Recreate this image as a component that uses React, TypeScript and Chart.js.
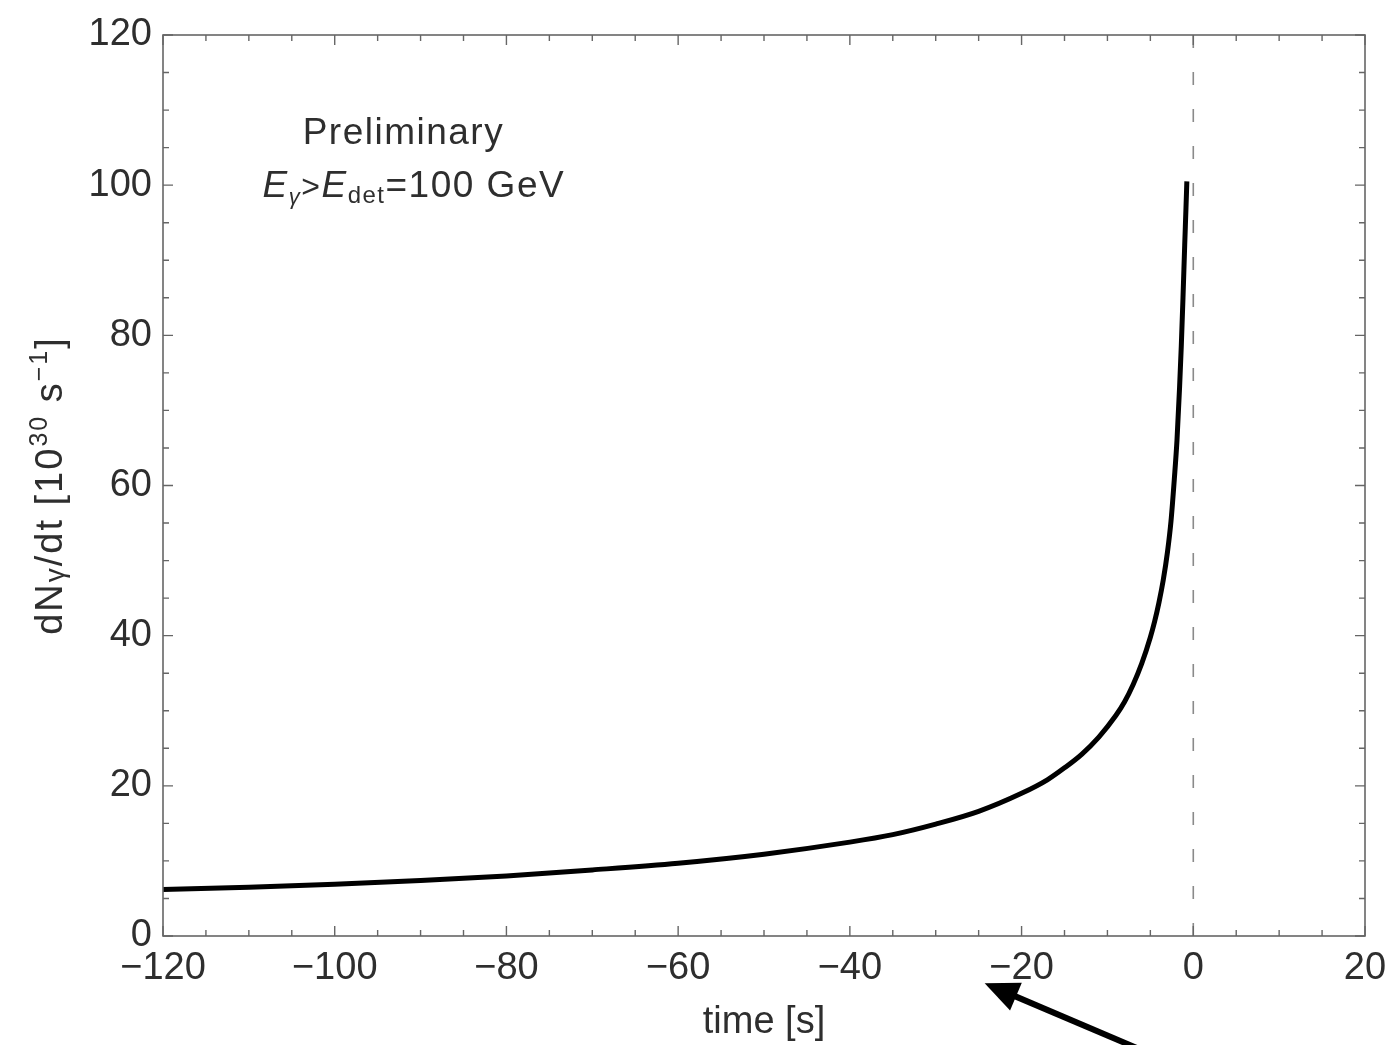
import React, { useEffect, useRef } from "react";
import { Chart, registerables } from "chart.js";

Chart.register(...registerables);

// time [s]
const timeS = [-120, -110, -100, -90, -80, -70, -60, -50, -40, -35, -30, -25, -20, -17, -15, -13, -11, -9, -8, -7, -6, -5, -4.5, -4, -3.5, -3, -2.6, -2.2, -1.9, -1.6, -1.4, -1.2, -1.0, -0.85, -0.75];
// dN/dt [10^30 s^-1]
const rate = [6.2, 6.5, 6.9, 7.4, 8.0, 8.8, 9.7, 10.9, 12.5, 13.5, 14.9, 16.6, 19.0, 20.8, 22.4, 24.2, 26.5, 29.4, 31.2, 33.5, 36.3, 39.8, 41.9, 44.4, 47.4, 51.2, 55.2, 61, 66, 73, 78.5, 85, 92, 97, 100.5];

const xTickValues = [-120, -100, -80, -60, -40, -20, 0, 20];
const yTickValues = [0, 20, 40, 60, 80, 100, 120];

const FONT = '"Liberation Sans", Arial, sans-serif';
const TEXT = "#2e2e2e";

type Seg = { t: string; size: number; italic?: boolean; dy?: number };

function drawSegs(ctx: any, segs: Seg[], x: number, y: number, align: "left" | "center", spacing = 0) {
  ctx.letterSpacing = spacing + "px";
  let total = 0;
  const widths = segs.map((s) => {
    ctx.font = `${s.italic ? "italic " : ""}${s.size}px ${FONT}`;
    const w = ctx.measureText(s.t).width;
    total += w;
    return w;
  });
  let cx = align === "center" ? x - total / 2 : x;
  segs.forEach((s, i) => {
    ctx.font = `${s.italic ? "italic " : ""}${s.size}px ${FONT}`;
    ctx.fillText(s.t, cx, y + (s.dy || 0));
    cx += widths[i];
  });
  ctx.letterSpacing = "0px";
}

const framePlugin = {
  id: "framePlugin",
  beforeDatasetsDraw(chart: any) {
    const { ctx, chartArea } = chart;
    const xs = chart.scales.x;
    const x0 = xs.getPixelForValue(0);
    ctx.save();
    ctx.strokeStyle = "#8a8a8a";
    ctx.lineWidth = 1.6;
    ctx.setLineDash([13, 24]);
    ctx.beginPath();
    ctx.moveTo(x0, chartArea.top);
    ctx.lineTo(x0, chartArea.bottom);
    ctx.stroke();
    ctx.restore();
  },
  afterDraw(chart: any) {
    const { ctx, chartArea } = chart;
    const xs = chart.scales.x;
    const ys = chart.scales.y;
    const { left, right, top, bottom } = chartArea;
    ctx.save();
    ctx.strokeStyle = "#666";
    ctx.lineWidth = 1.6;
    ctx.strokeRect(left, top, right - left, bottom - top);
    ctx.lineWidth = 1.4;
    ctx.beginPath();
    for (let v = -120; v <= 20; v += 5) {
      const px = xs.getPixelForValue(v);
      const len = v % 20 === 0 ? 10 : 6;
      ctx.moveTo(px, bottom);
      ctx.lineTo(px, bottom - len);
      ctx.moveTo(px, top);
      ctx.lineTo(px, top + len);
    }
    for (let v = 0; v <= 120; v += 5) {
      const py = ys.getPixelForValue(v);
      const len = v % 20 === 0 ? 10 : 6;
      ctx.moveTo(left, py);
      ctx.lineTo(left + len, py);
      ctx.moveTo(right, py);
      ctx.lineTo(right - len, py);
    }
    ctx.stroke();

    // annotation text
    ctx.fillStyle = TEXT;
    ctx.textBaseline = "alphabetic";
    ctx.textAlign = "left";
    const px1 = xs.getPixelForValue(-92);
    const py1 = ys.getPixelForValue(105.5);
    drawSegs(ctx, [{ t: "Preliminary", size: 37 }], px1, py1, "center", 1.5);
    const px2 = xs.getPixelForValue(-108.4);
    const py2 = ys.getPixelForValue(98.4);
    drawSegs(
      ctx,
      [
        { t: "E", size: 37, italic: true },
        { t: "γ", size: 22, italic: true, dy: 7 },
        { t: ">", size: 32 },
        { t: "E", size: 37, italic: true },
        { t: "det", size: 24, dy: 6 },
        { t: "=100 GeV", size: 37 },
      ],
      px2,
      py2,
      "left",
      1.5
    );

    // y axis title
    ctx.save();
    ctx.translate(62, (top + bottom) / 2);
    ctx.rotate(-Math.PI / 2);
    drawSegs(
      ctx,
      [
        { t: "dN", size: 38 },
        { t: "γ", size: 28, dy: 2 },
        { t: "/dt [10", size: 38 },
        { t: "30", size: 25, dy: -15 },
        { t: " s", size: 38 },
        { t: "−1", size: 25, dy: -15 },
        { t: "]", size: 38 },
      ],
      0,
      0,
      "center",
      2
    );
    ctx.restore();

    // arrow (in data units, outside plot area)
    const tipX = xs.getPixelForValue(-24.3);
    const tipY = ys.getPixelForValue(-6.3);
    const tailX = xs.getPixelForValue(-6.0);
    const tailY = ys.getPixelForValue(-15.2);
    const ang = Math.atan2(tipY - tailY, tipX - tailX);
    ctx.strokeStyle = "#000";
    ctx.fillStyle = "#000";
    ctx.lineWidth = 6;
    ctx.lineCap = "butt";
    ctx.beginPath();
    ctx.moveTo(tailX, tailY);
    ctx.lineTo(tipX - 20 * Math.cos(ang), tipY - 20 * Math.sin(ang));
    ctx.stroke();
    const hl = 34, hw = 15;
    ctx.beginPath();
    ctx.moveTo(tipX, tipY);
    ctx.lineTo(tipX - hl * Math.cos(ang) + hw * Math.sin(ang), tipY - hl * Math.sin(ang) - hw * Math.cos(ang));
    ctx.lineTo(tipX - hl * Math.cos(ang) - hw * Math.sin(ang), tipY - hl * Math.sin(ang) + hw * Math.cos(ang));
    ctx.closePath();
    ctx.fill();
    ctx.restore();
  },
};

export default function App() {
  const ref = useRef<HTMLCanvasElement | null>(null);
  useEffect(() => {
    document.body.style.margin = "0";
    document.body.style.background = "#fff";
    if (!ref.current) return;
    const chart = new Chart(ref.current, {
      type: "line",
      data: {
        datasets: [
          {
            data: timeS.map((t, i) => ({ x: t, y: rate[i] })),
            borderColor: "#000",
            borderWidth: 5,
            pointRadius: 0,
            cubicInterpolationMode: "monotone",
            fill: false,
          },
        ],
      },
      options: {
        responsive: false,
        animation: false,
        events: [],
        layout: { padding: { left: 0, right: 29, top: 35, bottom: 0 } },
        plugins: { legend: { display: false }, tooltip: { enabled: false }, title: { display: false } },
        scales: {
          x: {
            type: "linear",
            min: -120,
            max: 20,
            afterBuildTicks: (s: any) => {
              s.ticks = xTickValues.map((v) => ({ value: v }));
            },
            afterFit: (s: any) => {
              s.height = 109;
              s.paddingLeft = 0;
              s.paddingRight = 0;
            },
            ticks: {
              color: TEXT,
              font: { family: FONT, size: 38 },
              padding: 10,
              maxRotation: 0,
              autoSkip: false,
              callback: (v: any) => (Number(v) < 0 ? "−" + Math.abs(Number(v)) : String(v)),
            },
            grid: { display: false, drawTicks: false },
            border: { display: false },
            title: { display: true, text: "time [s]", color: TEXT, font: { family: FONT, size: 38 }, padding: { top: 0, bottom: 0 } },
          },
          y: {
            type: "linear",
            min: 0,
            max: 120,
            afterBuildTicks: (s: any) => {
              s.ticks = yTickValues.map((v) => ({ value: v }));
            },
            afterFit: (s: any) => {
              s.width = 163;
              s.paddingTop = 0;
              s.paddingBottom = 0;
            },
            ticks: {
              color: TEXT,
              font: { family: FONT, size: 38 },
              padding: 11,
              autoSkip: false,
            },
            grid: { display: false, drawTicks: false },
            border: { display: false },
          },
        },
      },
      plugins: [framePlugin],
    } as any);
    return () => chart.destroy();
  }, []);
  return (
    <div style={{ position: "relative", width: 1394, height: 1045, background: "#fff" }}>
      <canvas ref={ref} width={1394} height={1045} style={{ display: "block", width: 1394, height: 1045 }} />
    </div>
  );
}
